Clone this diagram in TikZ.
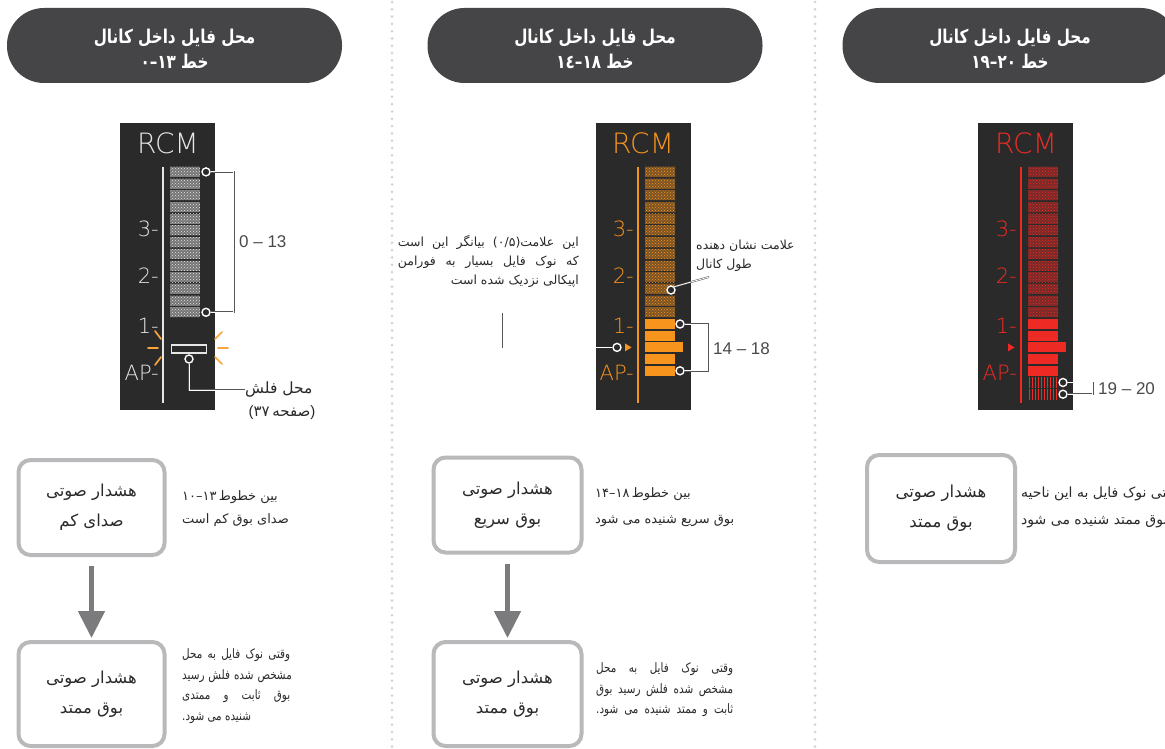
\documentclass[tikz,border=0pt]{standalone}
\usepackage{fontspec}
\setmainfont{Liberation Sans}
\newfontfamily\fa[Script=Arabic]{DejaVu Sans}
\newfontfamily\facond[Script=Arabic, FakeStretch=0.8]{DejaVu Sans}
\newfontfamily\lcdfont{DejaVu Sans ExtraLight}
\usetikzlibrary{patterns,arrows.meta}
\TeXXeTstate=1
\definecolor{mypillcolor}{HTML}{454447}
\definecolor{mylcdcolor}{HTML}{2B2A2A}
\definecolor{mywhitecolor}{HTML}{E6E6E6}
\definecolor{myorangecolor}{HTML}{F7941D}
\definecolor{myredcolor}{HTML}{EE2A24}
\definecolor{mysparkcolor}{HTML}{F9A53A}
\definecolor{myboxcolor}{HTML}{B9B9BB}
\definecolor{myarrowcolor}{HTML}{7B7B7D}
\definecolor{mydotcolor}{HTML}{D4D4D4}
\definecolor{mytextcolor}{HTML}{2A2A2A}
\newcommand{\fatext}[1]{\beginR #1\endR}
\newcommand{\jline}[2]{\hbox to #1{\spaceskip=0.3em plus 1fil #2}}
\newcommand{\rng}[2]{\hbox{#1}\hbox{–}\hbox{#2}}
\tikzset{
  pill/.style={fill=mypillcolor, rounded corners=37pt, minimum width=335pt, minimum height=75pt, text=white, align=center, inner sep=0pt, font=\facond\bfseries\fontsize{19}{25}\selectfont},
  lcd/.style={fill=mylcdcolor, minimum width=95pt, minimum height=287pt, inner sep=0pt},
  lcdline/.style={line width=2.6pt},
  lcdlabel/.style={anchor=east, inner sep=0pt, font=\lcdfont\fontsize{21}{21}\selectfont},
  rcmlabel/.style={inner sep=0pt, font=\lcdfont\fontsize{28}{28}\selectfont},
  dotbar/.style={anchor=west, minimum width=30pt, minimum height=10pt, inner sep=0pt, pattern=crosshatch dots, pattern color=#1, preaction={fill=#1!40!mylcdcolor}},
  fullbar/.style={anchor=west, minimum width=30pt, minimum height=10pt, inner sep=0pt},
  hatchbar/.style={anchor=west, minimum width=30pt, minimum height=10pt, inner sep=0pt, pattern=vertical lines},
  ring/.style={circle, draw=white, fill=mylcdcolor, line width=1.4pt, minimum size=8pt, inner sep=0pt},
  bracket/.style={draw=mytextcolor!80, double=white, line width=0.5pt, double distance=0.8pt},
  rangelabel/.style={anchor=west, inner sep=0pt, text=mytextcolor!85, font=\fontsize{17}{17}\selectfont},
  spark/.style={mysparkcolor, line width=1.7pt, line cap=round},
  sepline/.style={mydotcolor, line width=3pt, line cap=round, dash pattern=on 0pt off 7.3pt},
  alertbox/.style={draw=myboxcolor, line width=4pt, rounded corners=12pt, minimum width=146pt, minimum height=95pt, align=center, text=mytextcolor, font=\fa\fontsize{16.5}{30}\selectfont},
  downarrow/.style={myarrowcolor, line width=5pt, -{Triangle[width=26pt, length=27pt]}, shorten <=9pt, shorten >=2pt},
  note/.style={inner sep=0pt, text=mytextcolor, font=\fa\fontsize{13}{24}\selectfont},
  condnote/.style={inner sep=0pt, text=mytextcolor, font=\facond\fontsize{13}{20.5}\selectfont}
}

\begin{document}
\begin{tikzpicture}[x=1pt, y=-1pt]%
\fill[white] (0,0) rectangle (1165,749);%
\clip (0,0) rectangle (1165,749);%
\draw[sepline] (392,2) -- (392,749);%
\draw[sepline] (815,2) -- (815,749);%
\node[pill] (title1) at (174.5,45.5) {\rule{0pt}{22pt}\fatext{محل فایل داخل کانال}\\\rng{۰}{۱۳}\ \fatext{خط}};%
\node[pill] (title2) at (595,45.5) {\rule{0pt}{22pt}\fatext{محل فایل داخل کانال}\\\rng{۱٤}{۱۸}\ \fatext{خط}};%
\node[pill] (title3) at (1010,45.5) {\rule{0pt}{22pt}\fatext{محل فایل داخل کانال}\\\rng{۱۹}{۲۰}\ \fatext{خط}};%
\node[lcd] (lcd1) at (167.5,266.5) {};%
\node[rcmlabel, text=mywhitecolor] (rcm1) at (168,143) {RCM};%
\draw[lcdline, mywhitecolor] (163,167) -- (163,403);%
\node[lcdlabel, text=mywhitecolor] (tick1c) at (159,229) {3-};%
\node[lcdlabel, text=mywhitecolor] (tick1b) at (159,276) {2-};%
\node[lcdlabel, text=mywhitecolor] (tick1a) at (159,326) {1-};%
\node[lcdlabel, text=mywhitecolor] (tick1ap) at (159,373) {AP-};%
\node[dotbar=mywhitecolor] (p1b1) at (170,171.9) {};%
\node[dotbar=mywhitecolor] (p1b2) at (170,183.6) {};%
\node[dotbar=mywhitecolor] (p1b3) at (170,195.3) {};%
\node[dotbar=mywhitecolor] (p1b4) at (170,207.0) {};%
\node[dotbar=mywhitecolor] (p1b5) at (170,218.7) {};%
\node[dotbar=mywhitecolor] (p1b6) at (170,230.4) {};%
\node[dotbar=mywhitecolor] (p1b7) at (170,242.1) {};%
\node[dotbar=mywhitecolor] (p1b8) at (170,253.8) {};%
\node[dotbar=mywhitecolor] (p1b9) at (170,265.5) {};%
\node[dotbar=mywhitecolor] (p1b10) at (170,277.2) {};%
\node[dotbar=mywhitecolor] (p1b11) at (170,288.9) {};%
\node[dotbar=mywhitecolor] (p1b12) at (170,300.6) {};%
\node[dotbar=mywhitecolor] (p1b13) at (170,312.3) {};%
\node[ring] (c1a) at (206,171.9) {};%
\node[ring] (c1b) at (206,312.3) {};%
\draw[bracket] (c1a.east) -- ++(23,0) |- (c1b.east);%
\node[rangelabel] (range1) at (239,242) {0 – 13};%
\node[draw=mywhitecolor, line width=1.4pt, minimum width=35pt, minimum height=8pt, inner sep=0pt] (flash1) at (189,349) {};%
\node[ring] (f1) at (189,359) {};%
\node[note, anchor=west, font=\fa\fontsize{15.5}{15.5}\selectfont] (flashlbl) at (245,390) {\fatext{محل فلش}};%
\node[note, font=\fa\fontsize{15}{15}\selectfont] (pagelbl) at (282,413) {\hbox{\normalfont(}\hbox{۳۷}\,\fatext{صفحه}\hbox{\normalfont)}};%
\draw[bracket] (f1.south) |- (flashlbl.west);%
\draw[spark] (148,348) -- (158,348);%
\draw[spark] (155,331) -- (161,339);%
\draw[spark] (155,365) -- (161,357);%
\draw[spark] (218,348) -- (228,348);%
\draw[spark] (215,339) -- (222,332);%
\draw[spark] (215,357) -- (222,364);%
\node[lcd] (lcd2) at (643,266.5) {};%
\node[rcmlabel, text=myorangecolor] (rcm2) at (643,143) {RCM};%
\draw[lcdline, myorangecolor] (638,167) -- (638,403);%
\node[lcdlabel, text=myorangecolor] (tick2c) at (634,229) {3-};%
\node[lcdlabel, text=myorangecolor] (tick2b) at (634,276) {2-};%
\node[lcdlabel, text=myorangecolor] (tick2a) at (634,326) {1-};%
\node[lcdlabel, text=myorangecolor] (tick2ap) at (634,373) {AP-};%
\node[dotbar=myorangecolor] (p2b1) at (645,171.9) {};%
\node[dotbar=myorangecolor] (p2b2) at (645,183.6) {};%
\node[dotbar=myorangecolor] (p2b3) at (645,195.3) {};%
\node[dotbar=myorangecolor] (p2b4) at (645,207.0) {};%
\node[dotbar=myorangecolor] (p2b5) at (645,218.7) {};%
\node[dotbar=myorangecolor] (p2b6) at (645,230.4) {};%
\node[dotbar=myorangecolor] (p2b7) at (645,242.1) {};%
\node[dotbar=myorangecolor] (p2b8) at (645,253.8) {};%
\node[dotbar=myorangecolor] (p2b9) at (645,265.5) {};%
\node[dotbar=myorangecolor] (p2b10) at (645,277.2) {};%
\node[dotbar=myorangecolor] (p2b11) at (645,288.9) {};%
\node[dotbar=myorangecolor] (p2b12) at (645,300.6) {};%
\node[dotbar=myorangecolor] (p2b13) at (645,312.3) {};%
\node[fullbar, fill=myorangecolor] (p2b14) at (645,324.0) {};%
\node[fullbar, fill=myorangecolor] (p2b15) at (645,335.7) {};%
\node[fullbar, fill=myorangecolor, minimum width=38pt] (p2b16) at (645,347.4) {};%
\node[fullbar, fill=myorangecolor] (p2b17) at (645,359.1) {};%
\node[fullbar, fill=myorangecolor] (p2b18) at (645,370.8) {};%
\fill[myorangecolor] (625,343.4) -- (631.5,347.4) -- (625,351.4) -- cycle;%
\node[ring] (c2a) at (680,324.0) {};%
\node[ring] (c2b) at (680,370.8) {};%
\draw[bracket] (c2a.east) -- ++(23,0) |- (c2b.east);%
\node[rangelabel] (range2) at (713,349) {14 – 18};%
\node[ring] (c2m) at (617,347.4) {};%
\coordinate (n2) at (503,313);%
\draw[bracket] (c2m.west) -| (n2);%
\node[note, anchor=east, align=right, font=\fa\fontsize{12.5}{19}\selectfont] (note2) at (579,261) {\jline{181pt}{\beginR این علامت\hbox{(۰/۵)} بیانگر این است\endR}\\\jline{181pt}{\beginR که نوک فایل بسیار به فورامن\endR}\\\fatext{اپیکالی نزدیک شده است}};%
\node[ring] (c2p) at (671,290) {};%
\coordinate (p2) at (709,277);%
\draw[bracket] (c2p.north east) -- (p2);%
\node[note, anchor=west, align=left, font=\fa\fontsize{12.5}{19}\selectfont] (note3) at (696,256) {\fatext{علامت نشان دهنده}\\\fatext{طول کانال}};%
\node[lcd] (lcd3) at (1025.5,266.5) {};%
\node[rcmlabel, text=myredcolor] (rcm3) at (1026,143) {RCM};%
\draw[lcdline, myredcolor] (1021,167) -- (1021,403);%
\node[lcdlabel, text=myredcolor] (tick3c) at (1017,229) {3-};%
\node[lcdlabel, text=myredcolor] (tick3b) at (1017,276) {2-};%
\node[lcdlabel, text=myredcolor] (tick3a) at (1017,326) {1-};%
\node[lcdlabel, text=myredcolor] (tick3ap) at (1017,373) {AP-};%
\node[dotbar=myredcolor] (p3b1) at (1028,171.9) {};%
\node[dotbar=myredcolor] (p3b2) at (1028,183.6) {};%
\node[dotbar=myredcolor] (p3b3) at (1028,195.3) {};%
\node[dotbar=myredcolor] (p3b4) at (1028,207.0) {};%
\node[dotbar=myredcolor] (p3b5) at (1028,218.7) {};%
\node[dotbar=myredcolor] (p3b6) at (1028,230.4) {};%
\node[dotbar=myredcolor] (p3b7) at (1028,242.1) {};%
\node[dotbar=myredcolor] (p3b8) at (1028,253.8) {};%
\node[dotbar=myredcolor] (p3b9) at (1028,265.5) {};%
\node[dotbar=myredcolor] (p3b10) at (1028,277.2) {};%
\node[dotbar=myredcolor] (p3b11) at (1028,288.9) {};%
\node[dotbar=myredcolor] (p3b12) at (1028,300.6) {};%
\node[dotbar=myredcolor] (p3b13) at (1028,312.3) {};%
\node[fullbar, fill=myredcolor] (p3b14) at (1028,324.0) {};%
\node[fullbar, fill=myredcolor] (p3b15) at (1028,335.7) {};%
\node[fullbar, fill=myredcolor, minimum width=38pt] (p3b16) at (1028,347.4) {};%
\node[fullbar, fill=myredcolor] (p3b17) at (1028,359.1) {};%
\node[fullbar, fill=myredcolor] (p3b18) at (1028,370.8) {};%
\node[hatchbar, pattern color=myredcolor] (p3b19) at (1028,382.5) {};%
\node[hatchbar, pattern color=myredcolor] (p3b20) at (1028,394.2) {};%
\fill[myredcolor] (1008,343.4) -- (1014.5,347.4) -- (1008,351.4) -- cycle;%
\node[ring] (c3a) at (1063,382.5) {};%
\node[ring] (c3b) at (1063,394.2) {};%
\draw[bracket] (c3a.east) -- ++(25,0) |- (c3b.east);%
\node[rangelabel] (range3) at (1098,389) {19 – 20};%
\node[alertbox] (alert1a) at (91.5,507.5) {\fatext{هشدار صوتی}\\\fatext{صدای کم}};%
\node[alertbox, minimum height=104pt] (alert1b) at (91.5,694) {\fatext{هشدار صوتی}\\\fatext{بوق ممتد}};%
\draw[downarrow] (alert1a) -- (alert1b);%
\node[note, anchor=west, align=left, font=\fa\fontsize{13}{23}\selectfont] (note1a) at (182,508.5) {\rng{۱۰}{۱۳}\,\fatext{بین خطوط}\\\fatext{صدای بوق کم است}};%
\node[condnote, anchor=west, align=left] (note1b) at (182,686) {\jline{108pt}{\beginR وقتی نوک فایل به محل\endR}\\\jline{108pt}{\beginR مشخص شده فلش رسید\endR}\\\jline{108pt}{\beginR بوق ثابت و ممتدی\endR}\\\fatext{شنیده می شود.}};%
\node[alertbox, minimum width=148pt] (alert2a) at (507.5,505) {\fatext{هشدار صوتی}\\\fatext{بوق سریع}};%
\node[alertbox, minimum width=148pt, minimum height=104pt] (alert2b) at (507.5,694) {\fatext{هشدار صوتی}\\\fatext{بوق ممتد}};%
\draw[downarrow] (alert2a) -- (alert2b);%
\node[note, anchor=west, align=left, font=\fa\fontsize{13}{26}\selectfont] (note2a) at (595,507.5) {\rng{۱۴}{۱۸}\,\fatext{بین خطوط}\\\fatext{بوق سریع شنیده می شود}};%
\node[condnote, anchor=west, align=left] (note2b) at (596,690) {\jline{137pt}{\beginR وقتی نوک فایل به محل\endR}\\\jline{137pt}{\beginR مشخص شده فلش رسید بوق\endR}\\\jline{137pt}{\beginR ثابت و ممتد شنیده می شود.\endR}};%
\node[alertbox, minimum width=148pt, minimum height=107pt] (alert3a) at (941,508.5) {\fatext{هشدار صوتی}\\\fatext{بوق ممتد}};%
\node[note, anchor=west, align=left, font=\fa\fontsize{14}{27}\selectfont] (note3a) at (1021,507) {\fatext{وقتی نوک فایل به این ناحیه}\\\fatext{بوق ممتد شنیده می شود}};%
\end{tikzpicture}
\end{document}
